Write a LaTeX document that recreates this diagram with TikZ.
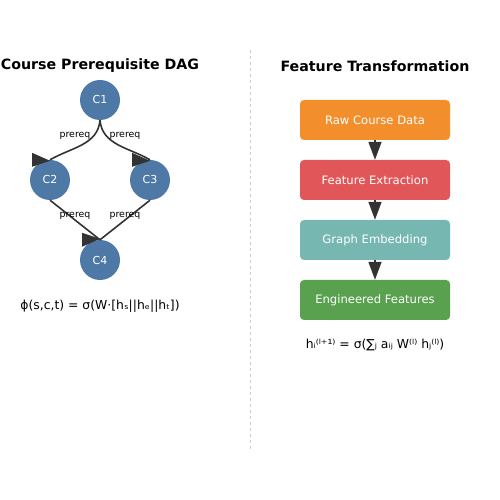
\documentclass[tikz,border=0pt]{standalone}
\usepackage{fontspec}
\setmainfont{DejaVu Sans}
\usepackage{tikz}
\usetikzlibrary{arrows.meta}
\definecolor{coursecol}{HTML}{4E79A7}
\definecolor{edgecol}{HTML}{333333}
\definecolor{rawcol}{HTML}{F28E2B}
\definecolor{extractcol}{HTML}{E15759}
\definecolor{embedcol}{HTML}{76B7B2}
\definecolor{featcol}{HTML}{59A14F}
\definecolor{splitcol}{HTML}{CCCCCC}

\begin{document}
\begin{tikzpicture}[x=1pt,y=1pt,
    course/.style={circle,fill=coursecol,minimum size=40pt,inner sep=0pt,text=white,font=\fontsize{11}{12}\selectfont},
    prereq/.style={draw=edgecol,line width=1.6pt},
    prereqlabel/.style={inner sep=0pt,font=\fontsize{9.4}{11}\selectfont},
    stagebox/.style={rectangle,rounded corners=4pt,minimum width=150pt,minimum height=40pt,text=white,font=\fontsize{11.6}{13}\selectfont},
    flow/.style={draw=edgecol,line width=1.6pt,-{Triangle[length=18pt,width=13pt]}},
    headline/.style={inner sep=0pt,font=\bfseries\fontsize{14.2}{16}\selectfont},
    formula/.style={inner sep=0pt,font=\fontsize{12.4}{14}\selectfont}]
            \useasboundingbox (0,0) rectangle (500,500);

            % Drawing the two titles
            \node [headline] (dagtitle) at (100,434) {Course Prerequisite DAG};
            \node [headline] (flowtitle) at (375,434) {Feature Transformation};

            % Drawing the split line
            \coordinate (splittop) at (250,450);
            \coordinate (splitbot) at (250,50);
            \draw [splitcol, dashed, line width=0.8pt] (splittop) -- (splitbot);

            % Placing courses C1 .. C4
            \node [course] (c1) at (100,400) {C1};
            \node [course] (c2) at (50,320) {C2};
            \node [course] (c3) at (150,320) {C3};
            \node [course] (c4) at (100,240) {C4};

            % Drawing prerequisite edges
            \draw [prereq] (c1.south) to [out=-95, in=30] (c2.north);
            \draw [prereq] (c1.south) to [out=-85, in=150] (c3.north);
            \draw [prereq] (c2.south) -- (c4.north);
            \draw [prereq] (c3.south) -- (c4.north);

            % Drawing edge heads
            \fill [edgecol] (c2.north) ++(0,-1) -- ++(-18,8) -- ++(0,-14) -- cycle;
            \fill [edgecol] (c3.north) ++(0,-1) -- ++(-18,8) -- ++(0,-14) -- cycle;
            \fill [edgecol] (c4.north) ++(0,1) -- ++(-18,6) -- ++(0,-14) -- cycle;

            % Labelling edges
            \node [prereqlabel] (l12) at (75,364) {prereq};
            \node [prereqlabel] (l13) at (125,364) {prereq};
            \node [prereqlabel] (l24) at (75,284) {prereq};
            \node [prereqlabel] (l34) at (125,284) {prereq};

            % Left formula
            \node [formula] (phi) at (100,194) {ϕ(s,c,t) = σ(W·[hₛ||hₑ||hₜ])};

            % Drawing the stages
            \node [stagebox, fill=rawcol] (raw) at (375,380) {Raw Course Data};
            \node [stagebox, fill=extractcol] (extract) at (375,320) {Feature Extraction};
            \node [stagebox, fill=embedcol] (embed) at (375,260) {Graph Embedding};
            \node [stagebox, fill=featcol] (feat) at (375,200) {Engineered Features};

            % Connecting the stages
            \draw [flow] (raw.south) -- (extract.north);
            \draw [flow] (extract.south) -- (embed.north);
            \draw [flow] (embed.south) -- (feat.north);

            % Right formula
            \node [formula] (update) at (375,155) {hᵢ⁽ˡ⁺¹⁾ = σ(∑ⱼ aᵢⱼ W⁽ˡ⁾ hⱼ⁽ˡ⁾)};
\end{tikzpicture}
\end{document}
